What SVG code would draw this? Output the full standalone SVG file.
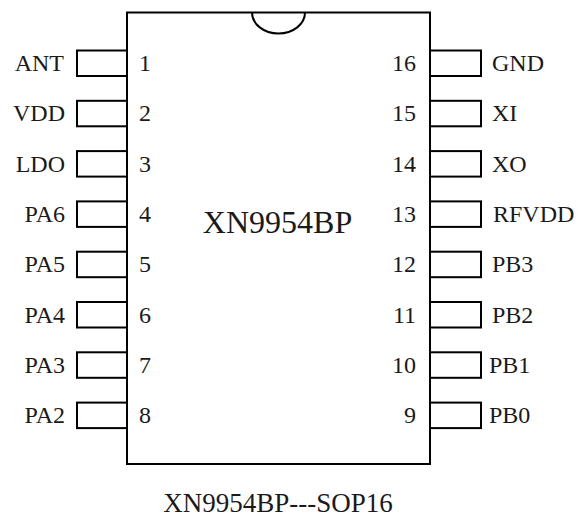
<svg xmlns="http://www.w3.org/2000/svg" width="579" height="520" viewBox="0 0 579 520">
<style>
.ln{fill:none;stroke:#000;stroke-width:2}
.pin{fill:#fff;stroke:#000;stroke-width:2}
text{font-family:"Liberation Serif","Times New Roman",serif;fill:#1a1a1a}
.lbl{font-size:24px}
.l{text-anchor:end}
.r{text-anchor:start}
</style>
<rect width="579" height="520" fill="#fff"/>
<g id="body">
<rect class="ln" x="127" y="12.5" width="303" height="451.5"/>
<path class="ln" d="M252,12.5 A26.5,21 0 0 0 305,12.5"/>
<text x="277.5" y="233" font-size="32" text-anchor="middle">XN9954BP</text>
</g>
<g id="connectors">
<rect class="pin" x="77" y="50.5" width="50" height="25.5"/>
<rect class="pin" x="77" y="100.8" width="50" height="25.5"/>
<rect class="pin" x="77" y="151.1" width="50" height="25.5"/>
<rect class="pin" x="77" y="201.4" width="50" height="25.5"/>
<rect class="pin" x="77" y="251.7" width="50" height="25.5"/>
<rect class="pin" x="77" y="302" width="50" height="25.5"/>
<rect class="pin" x="77" y="352.3" width="50" height="25.5"/>
<rect class="pin" x="77" y="402.6" width="50" height="25.5"/>
<rect class="pin" x="430" y="50.5" width="51" height="25.5"/>
<rect class="pin" x="430" y="100.8" width="51" height="25.5"/>
<rect class="pin" x="430" y="151.1" width="51" height="25.5"/>
<rect class="pin" x="430" y="201.4" width="51" height="25.5"/>
<rect class="pin" x="430" y="251.7" width="51" height="25.5"/>
<rect class="pin" x="430" y="302" width="51" height="25.5"/>
<rect class="pin" x="430" y="352.3" width="51" height="25.5"/>
<rect class="pin" x="430" y="402.6" width="51" height="25.5"/>
</g>
<g id="pin1"><text class="lbl l" x="64" y="71">ANT</text><text class="lbl r" x="139" y="71">1</text></g>
<g id="pin2"><text class="lbl l" x="65" y="121.3">VDD</text><text class="lbl r" x="139" y="121.3">2</text></g>
<g id="pin3"><text class="lbl l" x="65" y="171.6">LDO</text><text class="lbl r" x="139" y="171.6">3</text></g>
<g id="pin4"><text class="lbl l" x="65" y="221.9">PA6</text><text class="lbl r" x="139" y="221.9">4</text></g>
<g id="pin5"><text class="lbl l" x="65" y="272.2">PA5</text><text class="lbl r" x="139" y="272.2">5</text></g>
<g id="pin6"><text class="lbl l" x="65" y="322.5">PA4</text><text class="lbl r" x="139" y="322.5">6</text></g>
<g id="pin7"><text class="lbl l" x="65" y="372.8">PA3</text><text class="lbl r" x="139" y="372.8">7</text></g>
<g id="pin8"><text class="lbl l" x="65" y="423.1">PA2</text><text class="lbl r" x="139" y="423.1">8</text></g>
<g id="pin16"><text class="lbl r" x="492" y="71">GND</text><text class="lbl l" x="416" y="71">16</text></g>
<g id="pin15"><text class="lbl r" x="492" y="121.3">XI</text><text class="lbl l" x="416" y="121.3">15</text></g>
<g id="pin14"><text class="lbl r" x="492" y="171.6">XO</text><text class="lbl l" x="416" y="171.6">14</text></g>
<g id="pin13"><text class="lbl r" x="493" y="221.9">RFVDD</text><text class="lbl l" x="416" y="221.9">13</text></g>
<g id="pin12"><text class="lbl r" x="492" y="272.2">PB3</text><text class="lbl l" x="416" y="272.2">12</text></g>
<g id="pin11"><text class="lbl r" x="492" y="322.5">PB2</text><text class="lbl l" x="416" y="322.5">11</text></g>
<g id="pin10"><text class="lbl r" x="489" y="372.8">PB1</text><text class="lbl l" x="416" y="372.8">10</text></g>
<g id="pin9"><text class="lbl r" x="489" y="423.1">PB0</text><text class="lbl l" x="416" y="423.1">9</text></g>
<g id="caption"><text x="278" y="512" font-size="27" text-anchor="middle">XN9954BP---SOP16</text></g>
</svg>
